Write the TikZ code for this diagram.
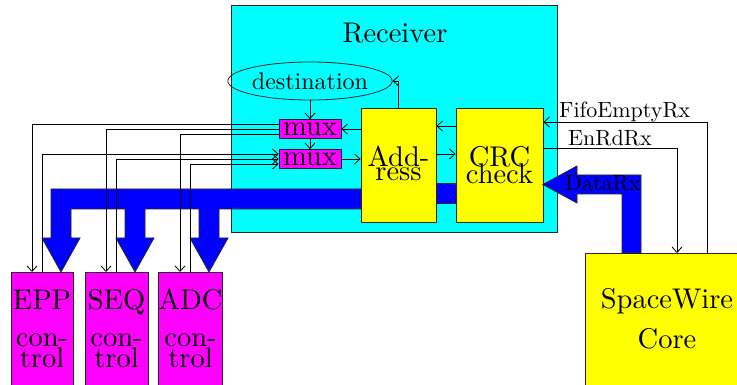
\documentclass[tikz,border=0pt]{standalone}
\usepackage{fontspec}
\setmainfont{lmroman10-regular}[Extension=.otf]
\usetikzlibrary{arrows.meta,shapes.geometric}
\definecolor{rxcyan}{RGB}{0,255,255}
\definecolor{boxyellow}{RGB}{255,255,0}
\definecolor{ctrlmagenta}{RGB}{255,0,255}
\definecolor{busblue}{RGB}{0,0,255}

\begin{document}
\begin{tikzpicture}[x=1pt,y=-1pt,
  outline/.style={draw=black!85,line width=0.8pt},
  wire/.style={draw=black,line width=0.8pt,-{Straight Barb[length=5.5pt,width=10pt]}},
  bus/.style={outline,fill=busblue},
  block/.style={outline,fill=boxyellow,inner sep=0pt,align=center},
  muxbox/.style={outline,fill=ctrlmagenta,inner sep=0pt,minimum width=62pt,
    minimum height=19pt,font=\fontsize{28.5}{30}\selectfont},
  ctrl/.style={outline,fill=ctrlmagenta,inner sep=0pt,align=center,anchor=north,
    font=\fontsize{28.5}{21}\selectfont},
  sig/.style={font=\fontsize{22}{24}\selectfont,inner sep=0pt,anchor=base west}]
\useasboundingbox (0,0) rectangle (737,385);
\clip (0,0) rectangle (737,385);

% receiver block
\node[outline,fill=rxcyan,minimum width=326pt,minimum height=227.5pt,inner sep=0pt]
  (rx) at (394.5,118.75) {};
\node[font=\fontsize{28.5}{30}\selectfont,anchor=base,inner sep=0pt]
  (rxname) at (395,43) {Receiver};

% data bus from the address decoder to the three controllers
\path[bus] (380,189) -- (51,189) -- (51,238) -- (42,238) -- (61,272) -- (80,238)
  -- (71,238) -- (71,209) -- (125,209) -- (125,238) -- (116,238) -- (135,272)
  -- (154,238) -- (145,238) -- (145,209) -- (199,209) -- (199,238) -- (190,238)
  -- (209,272) -- (228,238) -- (219,238) -- (219,209) -- (380,209) -- cycle;
% data bus between CRC check and address decoder
\path[bus] (420,183) rectangle (470,203);

% receiver internals
\node[block,minimum width=75pt,minimum height=114pt,
  font={\fontsize{28.5}{14.3}\selectfont\lineskiplimit=-30pt}]
  (addr) at (398.5,165) {Add-\\ress\rule[-4pt]{0pt}{4pt}};
\node[block,minimum width=87pt,minimum height=114pt,
  font={\fontsize{28.5}{17.5}\selectfont\lineskiplimit=-30pt}]
  (crc) at (499.5,165) {CRC\\check};
\node[outline,ellipse,inner sep=0pt,minimum width=134pt,minimum height=38pt,
  font=\fontsize{24}{26}\selectfont] (dest) at (310,81) {destination};
\node[muxbox] (mux1) at (310,129) {mux};
\node[muxbox] (mux2) at (310,159) {mux};

% controllers
\node[ctrl,minimum width=62pt] (epp) at (42,272)
  {\rule{0pt}{37pt}EPP\\[16pt]con-\\trol\rule[-23pt]{0pt}{23pt}};
\node[ctrl,minimum width=63pt] (seq) at (116.5,272)
  {\rule{0pt}{37pt}SEQ\\[16pt]con-\\trol\rule[-23pt]{0pt}{23pt}};
\node[ctrl,minimum width=63pt] (adc) at (190.5,272)
  {\rule{0pt}{37pt}ADC\\[16pt]con-\\trol\rule[-23pt]{0pt}{23pt}};

% SpaceWire core
\node[block,anchor=north,minimum width=164pt,font=\fontsize{28.5}{40}\selectfont]
  (sw) at (667,253) {\rule{0pt}{55pt}SpaceWire\\Core\rule[-42pt]{0pt}{42pt}};

% DataRx bus from the core into the CRC check
\path[bus] (622,253) -- (622,194) -- (577,194) -- (577,203) -- (543,184.5)
  -- (577,166) -- (577,175) -- (641,175) -- (641,253) -- cycle;

% control signals inside the receiver
\draw[wire] (addr.north) |- (dest.east);
\draw[wire] (dest.south) -- (mux1.north);
\draw[wire] (mux1.south) -- (mux2.north);
\draw[wire] (mux1.east -| addr.west) -- (mux1.east);
\draw[wire] (mux2.east) -- (mux2.east -| addr.west);
\draw[wire] ([yshift=39pt]crc.west) -- ([yshift=39pt]addr.east);
\draw[wire] ([yshift=11pt]addr.east) -- ([yshift=11pt]crc.west);

% handshake with the SpaceWire core
\draw[wire] ([xshift=40pt]sw.north) |- ([yshift=43pt]crc.east);
\draw[wire] ([yshift=17pt]crc.east) -| ([xshift=10pt]sw.north);

% select lines to and from the controllers
\draw[wire] ([yshift=5pt]mux1.west) -| ([xshift=-10pt]epp.north);
\draw[wire] (mux1.west) -| ([xshift=-10.5pt]seq.north);
\draw[wire] ([yshift=-5pt]mux1.west) -| ([xshift=-10.5pt]adc.north);
\draw[wire] (epp.north) |- ([yshift=5pt]mux2.west);
\draw[wire] (seq.north) |- (mux2.west);
\draw[wire] (adc.north) |- ([yshift=-5pt]mux2.west);

% signal names
\node[sig] (fifolbl) at (559,118) {FifoEmptyRx};
\node[sig] (enrdlbl) at (568,146) {EnRdRx};
\node[sig] (datalbl) at (565,191) {DataRx};
\end{tikzpicture}
\end{document}
